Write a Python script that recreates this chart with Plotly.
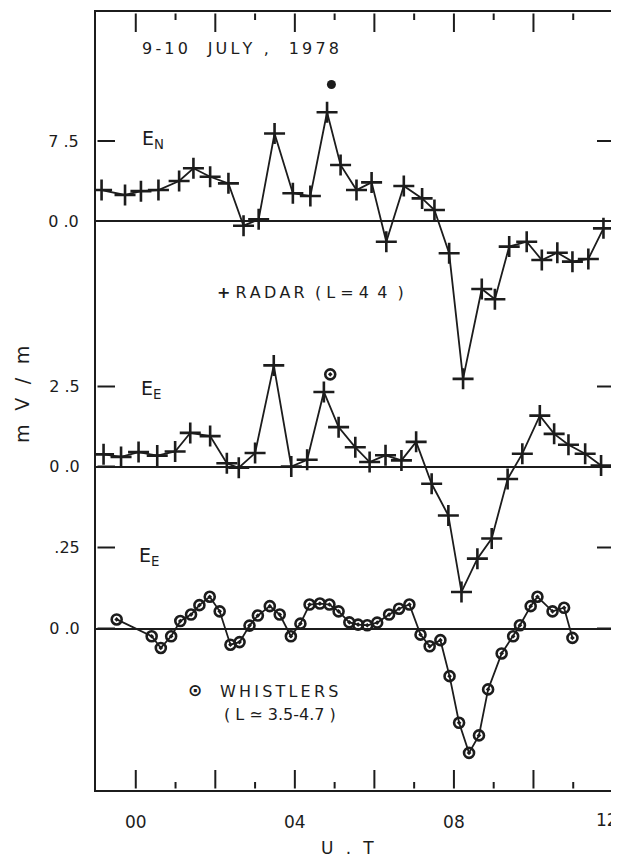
import plotly.graph_objects as go

# ---------------- data ----------------
# Radar E_N (mV/m) vs UT (hours)
ut_en = [-0.86, -0.27, 0.13, 0.57, 1.09, 1.45, 1.87, 2.33, 2.71, 3.09, 3.49, 3.95,
         4.39, 4.81, 5.15, 5.55, 5.93, 6.30, 6.74, 7.20, 7.51, 7.88, 8.23, 8.70,
         9.03, 9.39, 9.83, 10.21, 10.60, 10.98, 11.38, 11.76]
en_radar = [2.9, 2.44, 2.8, 2.9, 3.75, 4.94, 4.15, 3.53, -0.44, 0.16, 8.2, 2.6,
            2.34, 10.2, 5.25, 2.9, 3.62, -1.94, 3.28, 2.12, 1.03, -3.03, -14.8, -6.37,
            -7.34, -2.4, -1.94, -3.66, -2.97, -3.81, -3.56, -0.69]

# Radar E_E (mV/m)
ut_ee = [-0.81, -0.37, 0.07, 0.54, 0.99, 1.37, 1.87, 2.29, 2.59, 3.00, 3.47, 3.91,
         4.31, 4.73, 5.10, 5.52, 5.88, 6.28, 6.68, 7.05, 7.44, 7.86, 8.19, 8.59,
         8.95, 9.35, 9.72, 10.16, 10.52, 10.88, 11.30, 11.70]
ee_radar = [0.38, 0.30, 0.45, 0.34, 0.47, 1.05, 0.95, 0.10, -0.04, 0.42, 3.16, 0.0,
            0.21, 2.33, 1.23, 0.60, 0.14, 0.35, 0.19, 0.77, -0.54, -1.53, -3.92, -2.88,
            -2.25, -0.39, 0.40, 1.59, 1.02, 0.68, 0.40, 0.03]

# Whistler E_E (mV/m)
ut_wh = [-0.48, 0.40, 0.63, 0.89, 1.12, 1.39, 1.60, 1.86, 2.11, 2.38, 2.61, 2.86,
         3.07, 3.37, 3.62, 3.90, 4.14, 4.37, 4.63, 4.87, 5.10, 5.37, 5.59, 5.82,
         6.07, 6.37, 6.62, 6.88, 7.16, 7.39, 7.66, 7.89, 8.13, 8.38, 8.63, 8.86,
         9.20, 9.49, 9.66, 9.93, 10.10, 10.48, 10.77, 10.98]
ee_whistler = [0.028, -0.024, -0.06, -0.024, 0.023, 0.043, 0.072, 0.098, 0.053, -0.05, -0.042, 0.009,
               0.04, 0.069, 0.043, -0.024, 0.015, 0.074, 0.077, 0.074, 0.053, 0.019, 0.012, 0.01,
               0.018, 0.043, 0.061, 0.074, -0.019, -0.055, -0.036, -0.147, -0.291, -0.384, -0.33, -0.188,
               -0.077, -0.024, 0.01, 0.069, 0.098, 0.053, 0.064, -0.029]

# isolated single values
en_dot_ut, en_dot = [4.92], [12.8]
ee_dot_ut, ee_dot = [4.89], [2.88]

# tick definitions
x_label_vals = [0, 4, 8]
x_label_text = ["00", "04", "08"]
x_edge_val, x_edge_text = 12, "12"
x_major_ticks = [0, 2, 4, 6, 8, 10]
x_minor_ticks = [1, 3, 5, 7, 9, 11]
en_ticks, en_ticktext = [0, 7.5], ["0 .0", "7 .5"]
ee_ticks, ee_ticktext = [0, 2.5], ["0 .0", "2 .5"]
wh_ticks, wh_ticktext = [0, 0.25], ["0 .0", ".25"]

# ---------------- geometry (screen pixels; page body has 8px margin) ----------------
OFF = 8
SW, SH = 619, 859
S_LEFT, S_RIGHT, S_TOP, S_BOTTOM = 96, 613, 12, 790
W, H = SW - OFF, SH - OFF
L, T = S_LEFT - OFF, S_TOP - OFF
R, B = W - (S_RIGHT - OFF), H - (S_BOTTOM - OFF)
PW, PH = S_RIGHT - S_LEFT, S_BOTTOM - S_TOP
INK = "#1c1c1c"
CLEAR = "rgba(0,0,0,0)"
FONT = "DejaVu Sans"
TS = "\u2009"
XR = [-1, 12]
MAJOR_LEN, MINOR_LEN, LEFT_LEN, RIGHT_LEN = 20, 8, 19, 16
INSET = 1.5  # start each tick just inside the frame line


def sp(s):
    return TS.join(s)


def yrange(zero_px, unit_px):
    top = (zero_px - S_TOP) / unit_px
    bottom = -(S_BOTTOM - zero_px) / unit_px
    return [bottom, top]


def px(x):
    return (x - S_LEFT) / PW


def py(y):
    return 1 - (y - S_TOP) / PH


R1 = yrange(221, 80 / 7.5)
R2 = yrange(466.5, 32)
R3 = yrange(628.5, 324)

fig = go.Figure()

cross = dict(symbol="cross-thin", size=15, line=dict(width=2.6, color=INK), color=INK)
circ = dict(symbol="circle-open-dot", size=10, line=dict(width=2.6, color=INK), color=INK)

fig.add_trace(go.Scatter(x=ut_en, y=en_radar, mode="lines+markers", yaxis="y",
                         line=dict(color=INK, width=1.8), marker=cross))
fig.add_trace(go.Scatter(x=en_dot_ut, y=en_dot, mode="markers", yaxis="y",
                         marker=dict(symbol="circle", size=9, color=INK)))
fig.add_trace(go.Scatter(x=ut_ee, y=ee_radar, mode="lines+markers", yaxis="y2",
                         line=dict(color=INK, width=1.8), marker=cross))
fig.add_trace(go.Scatter(x=ee_dot_ut, y=ee_dot, mode="markers", yaxis="y2",
                         marker=circ))
fig.add_trace(go.Scatter(x=ut_wh, y=ee_whistler, mode="lines+markers", yaxis="y3",
                         line=dict(color=INK, width=1.8), marker=circ))

# ---- frame tick marks pointing inward, built from the tick lists ----
tick_line_style = dict(mode="lines", line=dict(color=INK, width=2), hoverinfo="skip")

# x ticks on a pixel-unit overlay (x positions converted from the UT tick values)
def x_to_pix(v):
    return (v - XR[0]) / (XR[1] - XR[0]) * PW


tx, ty = [], []
for v, ln in [(v, MAJOR_LEN) for v in x_major_ticks] + [(v, MINOR_LEN) for v in x_minor_ticks]:
    xp = x_to_pix(v)
    tx += [xp, xp, None, xp, xp, None]
    ty += [PH - INSET, PH - ln, None, INSET, ln, None]
fig.add_trace(go.Scatter(x=tx, y=ty, xaxis="x2", yaxis="y4", **tick_line_style))

# y ticks, left and right, in each panel's own units
for yname, vals in [("y", en_ticks), ("y2", ee_ticks), ("y3", wh_ticks)]:
    yx, yy = [], []
    for v in vals:
        yx += [PW, PW - RIGHT_LEN, None, INSET, LEFT_LEN, None]
        yy += [v, v, None, v, v, None]
    fig.add_trace(go.Scatter(x=yx, y=yy, xaxis="x2", yaxis=yname, **tick_line_style))

# invisible outside ticks only push the labels away from the frame
ycommon = dict(
    ticks="outside", ticklen=12, tickcolor=CLEAR,
    showgrid=False, zeroline=True, zerolinecolor=INK, zerolinewidth=2,
    tickfont=dict(family=FONT, size=16, color=INK), automargin=False,
)

fig.update_layout(
    width=W, height=H,
    margin=dict(l=L, r=R, t=T, b=B),
    paper_bgcolor="white", plot_bgcolor="white",
    showlegend=False,
    xaxis=dict(range=XR, tickvals=x_label_vals, ticktext=x_label_text,
               ticks="outside", ticklen=16, tickcolor=CLEAR,
               showgrid=False, zeroline=False, showline=True, linecolor=INK, linewidth=2,
               mirror=True, automargin=False, tickfont=dict(family=FONT, size=17, color=INK)),
    xaxis2=dict(range=[0, PW], overlaying="x", visible=False),
    yaxis=dict(range=R1, tickvals=en_ticks, ticktext=en_ticktext,
               showline=True, linecolor=INK, linewidth=2, mirror=True, **ycommon),
    yaxis2=dict(range=R2, tickvals=ee_ticks, ticktext=ee_ticktext,
                overlaying="y", showline=False, **ycommon),
    yaxis3=dict(range=R3, tickvals=wh_ticks, ticktext=wh_ticktext,
                overlaying="y", showline=False, **ycommon),
    yaxis4=dict(range=[0, PH], overlaying="y", visible=False),
)


def note(text, x, y, size=16, xanchor="center", angle=0):
    fig.add_annotation(text=text, x=px(x), y=py(y), xref="paper", yref="paper",
                       showarrow=False, xanchor=xanchor, yanchor="middle", textangle=angle,
                       font=dict(family=FONT, size=size, color=INK))


# edge label of the UT axis (sits on the right frame)
fig.add_annotation(text=x_edge_text, x=x_edge_val, y=py(820), xref="x", yref="paper",
                   showarrow=False, xanchor="center", yanchor="middle", xshift=-6,
                   font=dict(family=FONT, size=17, color=INK))

note(sp("9-10  JULY ,  1978"), 240, 48, 16)
note("E<sub>N</sub>", 153, 140, 19)
note("<b>+</b> " + sp("RADAR") + "  ( L = 4" + TS + " 4  )", 310, 292, 16)
note("E<sub>E</sub>", 151, 389, 19)
note("E<sub>E</sub>", 149, 556, 19)
note("<b>⊙</b>", 195, 690, 17)
note(sp("WHISTLERS"), 218, 691, 16, xanchor="left")
note("( L ≃ 3.5-4.7 )", 222, 714, 16, xanchor="left")
note(sp("m V / m"), 22, 395, 19, angle=-90)
note(sp("U . T"), 347, 848, 17)

fig.write_html("out.html")
